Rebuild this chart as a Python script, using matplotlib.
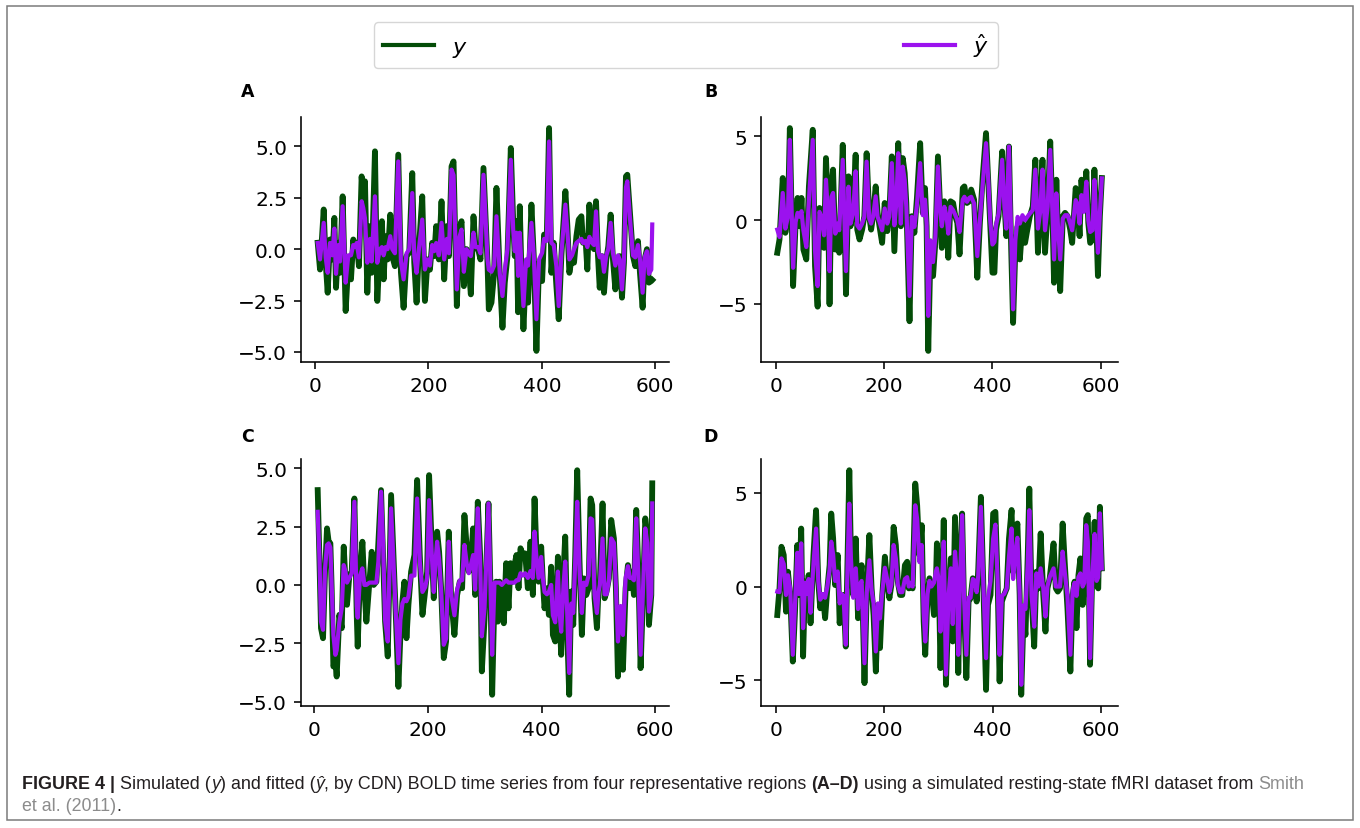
import matplotlib
matplotlib.use("Agg")
import matplotlib.pyplot as plt
from matplotlib.patches import Rectangle
from matplotlib.transforms import IdentityTransform
from matplotlib.lines import Line2D

# ---------------- data ----------------
tA = [4.7, 8.8, 15.3, 18.8, 22.3, 26.4, 30.5, 34.1, 37.0, 41.1,
      44.0, 48.7, 54.0, 58.7, 63.4, 67.5, 70.5, 73.4, 77.5, 82.2,
      85.1, 88.1, 92.2, 96.9, 99.8, 105.7, 109.8, 114.5, 118.0, 121.0,
      124.5, 128.0, 132.7, 136.2, 140.9, 146.8, 151.5, 156.2, 161.5, 166.2,
      171.5, 175.0, 179.1, 183.2, 189.1, 193.8, 198.5, 202.6, 206.7, 210.2,
      213.7, 218.4, 223.1, 227.8, 232.5, 236.1, 240.8, 244.3, 250.1, 254.8,
      258.4, 262.5, 267.2, 270.1, 274.8, 279.5, 283.0, 287.7, 291.8, 297.1,
      304.2, 306.5, 311.2, 315.9, 320.0, 325.9, 330.6, 334.7, 339.4, 345.3,
      349.4, 352.3, 355.3, 358.2, 361.1, 364.1, 367.6, 372.3, 375.8, 381.7,
      385.8, 390.5, 395.2, 400.5, 404.0, 408.7, 412.8, 416.9, 421.0, 425.7,
      429.8, 434.5, 441.6, 445.1, 448.6, 453.3, 456.8, 461.0, 465.1, 469.8,
      472.7, 476.8, 480.3, 483.9, 488.6, 492.1, 495.6, 499.1, 502.1, 506.2,
      509.7, 513.8, 517.3, 521.4, 525.5, 529.7, 534.4, 537.3, 541.4, 544.9,
      548.4, 550.8, 555.5, 560.8, 564.9, 569.6, 573.1, 577.8, 581.3, 585.4,
      588.9, 593.1, 594.8]
yA = [0.31, -0.99, 1.93, -0.66, -2.12, 0.47, -0.5, 1.52, -1.88, 0.31,
      -1.15, 2.57, -3.01, -0.66, -1.47, 0.47, -0.18, 0.31, -0.83, 3.54,
      2.41, 3.30, -2.12, 1.12, -1.15, 4.76, -2.52, 0.0, 1.36, -1.47,
      0.63, -0.5, 1.68, -0.34, -0.83, 4.6, -1.13, -2.85, -0.34, -0.16,
      3.7, -0.66, -2.6, 0.0, 2.57, -2.52, -0.5, -1.0, 0.31, -0.34,
      1.12, -0.5, 2.33, -1.47, 1.12, -0.34, 4.03, 4.27, -2.77, 0.95,
      1.36, -1.8, 0.0, -0.5, -2.2, 1.6, 0.06, 0.0, -0.5, 3.95,
      -0.66, -2.93, -2.6, -1.15, 2.98, -1.31, -3.82, -1.63, -0.34, 4.92,
      1.44, -0.34, 1.36, -3.07, 2.09, -1.15, -3.9, -0.83, -2.6, 2.17,
      -0.34, -4.95, -0.66, -1.55, 0.71, 0.47, 5.89, -1.15, 0.31, -1.8,
      -3.41, -0.34, 2.82, 1.12, -1.15, -0.34, -0.66, 0.63, 1.44, 1.6,
      0.31, 0.63, -0.99, 2.17, 0.15, 0.0, 2.33, -0.34, -1.88, -0.34,
      -2.12, -0.5, 0.15, 1.68, -0.5, -1.96, -0.66, -0.34, -2.36, -0.66,
      3.54, 3.62, 1.76, -0.34, -0.83, 0.39, -1.15, -2.85, -0.5, 0.0,
      -1.63, -1.55, -1.5]
yhatA = [0.3, -0.5, 1.28, -0.4, -1.15, 0.3, -0.3, 1.0, -1.2, 0.2,
         -0.6, 2.09, -1.63, -0.3, -0.3, 0.2, 0.1, 0.3, -0.4, 2.33,
         2.0, 1.5, -0.66, 0.5, -0.6, 2.57, -0.66, 0.0, 0.1, -0.3,
         0.1, 0.0, 0.63, 0.0, -0.2, 4.27, -0.6, -1.47, -0.2, 0.0,
         2.73, -0.3, -1.15, 0.0, 1.44, -0.99, -0.5, -0.8, 0.2, -0.1,
         0.3, -0.3, 1.28, -0.5, 0.5, -0.2, 3.87, 3.6, -1.96, 0.6,
         0.95, -1.1, 0.0, -0.2, -0.34, 0.8, 0.1, 0.1, -0.2, 3.62,
         -0.5, -1.0, -1.1, -0.8, 1.6, -1.2, -2.28, -1.0, 0.0, 4.35,
         1.0, -0.1, 0.8, -1.3, 0.8, -0.8, -2.77, -0.5, -0.8, 1.28,
         -0.3, -3.41, -0.5, -0.18, 0.5, 0.4, 5.24, 0.3, 0.2, -0.83,
         -2.77, -0.2, 2.17, 0.8, -0.5, -0.3, 0.0, 0.3, 0.4, 0.5,
         0.3, 0.4, 0.1, 0.6, 0.3, 0.2, 1.84, -0.1, -0.4, -0.3,
         -1.1, -0.3, 0.0, 1.28, -0.2, -0.8, -0.3, -0.5, -1.96, -0.5,
         3.0, 3.3, 1.5, -0.3, -0.4, 0.2, -0.5, -2.12, -0.4, -0.1,
         -1.2, -1.0, 1.2]

tB = [3.0, 7.1, 13.1, 17.9, 22.6, 26.2, 32.2, 36.9, 40.5, 44.7,
      47.7, 51.2, 56.6, 61.4, 68.5, 72.7, 77.5, 81.0, 84.6, 89.4,
      92.9, 97.1, 99.5, 103.1, 106.0, 110.2, 114.4, 117.4, 123.9, 126.9,
      129.9, 134.6, 138.2, 143.0, 147.7, 150.7, 154.9, 159.7, 163.8, 168.0,
      172.8, 176.3, 179.9, 184.7, 188.3, 191.8, 196.6, 201.4, 206.1, 209.7,
      214.5, 219.2, 222.8, 226.4, 231.2, 234.7, 238.3, 241.3, 247.2, 251.4,
      256.2, 260.9, 266.9, 271.7, 275.8, 278.8, 281.8, 286.0, 290.7, 294.9,
      299.7, 303.9, 306.9, 311.6, 315.8, 318.8, 323.0, 327.7, 331.9, 335.5,
      339.6, 345.6, 348.6, 353.3, 357.5, 361.1, 366.5, 372.4, 377.2, 382.5,
      388.5, 392.7, 396.2, 400.4, 404.0, 407.0, 411.7, 418.3, 422.5, 426.0,
      430.8, 435.0, 438.5, 442.7, 446.9, 451.0, 455.8, 460.6, 464.8, 469.5,
      474.9, 479.6, 484.4, 488.6, 492.8, 497.5, 502.3, 507.1, 511.2, 514.2,
      518.4, 521.3, 525.5, 530.3, 534.5, 539.2, 544.0, 547.6, 554.1, 557.1,
      561.3, 564.8, 569.0, 573.8, 577.4, 580.9, 585.1, 588.7, 591.7, 595.2,
      598.8, 602.4]
yB = [-1.94, -1.15, 2.52, -0.75, 0.24, 5.5, -3.93, -0.16, 1.33, -0.36,
      1.33, -1.75, -2.34, 2.02, 5.4, -2.74, -5.16, 0.73, 0.24, -1.65,
      3.71, 0.24, -5.02, 2.02, 3.02, -1.75, -0.36, -1.94, 4.5, 0.24,
      -4.42, 2.62, -0.36, 0.63, 3.91, -0.56, -1.15, -0.56, 0.24, 4.0,
      0.24, -0.56, 0.24, 2.02, 0.44, -0.36, -1.35, 1.03, -0.65, 0.24,
      3.81, -1.85, 1.43, 4.6, -0.36, 3.71, 2.82, 1.03, -6.03, 0.24,
      -0.75, 1.33, 4.6, 0.44, 1.92, -0.36, -7.8, -1.75, -3.33, -1.35,
      3.81, 0.63, -1.65, 1.13, 0.24, -2.24, 1.13, 1.03, 0.24, -0.16,
      -2.04, 1.92, 2.02, 1.03, 1.13, 1.83, 1.23, -3.43, -0.16, 2.62,
      5.2, 2.22, -0.36, -3.13, -3.13, -0.56, 0.24, 4.1, 1.03, -0.95,
      4.4, -1.75, -6.13, -1.75, -0.36, -2.34, -0.16, -1.35, -0.56, 0.24,
      0.83, 3.61, -1.94, 0.63, 3.61, -1.94, 0.63, 4.7, 0.24, -3.73,
      2.42, -0.56, -4.23, 0.24, 0.44, 0.24, -0.56, -1.35, 1.92, 1.33,
      -0.95, 2.42, 0.63, 2.92, -0.16, -1.35, -1.15, 3.02, 0.24, -3.33,
      0.24, 2.52]
yhatB = [-0.56, -1.0, 1.63, -0.5, 0.2, 4.8, -2.84, -0.1, 0.44, 0.2,
         0.54, -0.6, -1.6, 1.2, 4.8, -1.8, -3.93, 0.5, 0.2, -0.9,
         2.42, 0.1, -3.04, 1.4, 1.63, -0.8, -0.2, -0.6, 3.61, 0.1,
         -3.04, 2.0, -0.2, 0.4, 2.92, -0.3, -0.5, -0.2, 0.2, 3.5,
         0.1, -0.2, 0.2, 1.43, 0.2, -0.1, -0.6, 0.7, -0.2, 0.2,
         3.41, -0.3, 1.0, 4.0, -0.2, 3.2, 2.4, 0.8, -4.52, 0.2,
         -0.4, 0.9, 3.41, 0.3, 1.23, -0.2, -5.71, -1.2, -2.5, -1.0,
         3.21, 0.6, -0.36, 0.8, 0.2, -0.8, 0.8, 0.6, 0.3, 0.0,
         -0.7, 1.23, 1.4, 1.1, 1.33, 1.4, 1.0, -2.14, 0.0, 2.2,
         4.6, 2.4, 0.0, -1.45, -1.3, -0.3, 0.4, 3.61, 0.8, -0.5,
         4.4, -1.0, -5.32, -1.2, 0.2, -0.2, 0.3, 0.0, 0.2, 0.4,
         0.6, 3.02, -0.5, 0.5, 3.02, -0.6, 0.8, 4.2, 0.5, -2.34,
         1.6, -0.3, -2.34, 0.1, 0.3, 0.3, -0.2, -0.6, 1.2, 1.0,
         -0.2, 1.5, 0.5, 2.3, 0.0, -0.7, -0.6, 2.4, 0.2, -1.94,
         0.4, 2.5]

tC = [5.9, 8.8, 11.7, 15.3, 18.8, 22.3, 25.2, 28.2, 30.5, 33.5,
      37.0, 39.3, 44.0, 48.2, 51.7, 54.6, 57.5, 61.7, 65.8, 70.5,
      74.6, 76.3, 80.4, 84.6, 88.1, 91.6, 96.9, 101.0, 104.5, 109.2,
      112.7, 117.4, 121.0, 124.5, 129.2, 135.1, 139.2, 142.7, 148.0, 151.5,
      155.0, 158.5, 162.1, 165.6, 170.3, 176.2, 180.9, 185.6, 190.3, 195.0,
      198.5, 202.0, 206.7, 210.2, 213.2, 216.1, 219.6, 223.1, 227.8, 231.9,
      236.6, 240.8, 246.6, 251.3, 256.0, 260.1, 264.2, 268.3, 271.9, 276.0,
      279.5, 283.0, 287.7, 291.8, 294.8, 299.5, 306.5, 310.0, 313.0, 317.1,
      320.0, 323.0, 325.9, 330.0, 333.5, 337.6, 341.8, 345.3, 349.4, 352.3,
      355.8, 359.4, 362.9, 367.0, 371.1, 375.8, 380.5, 384.6, 387.6, 390.5,
      394.6, 399.3, 402.2, 405.2, 409.3, 412.8, 416.9, 419.9, 424.0, 428.7,
      431.6, 434.5, 438.6, 441.6, 445.1, 448.6, 452.1, 455.7, 459.2, 462.7,
      466.8, 470.9, 474.5, 478.6, 482.7, 486.2, 489.1, 493.2, 497.4, 500.3,
      502.6, 507.3, 510.9, 514.4, 518.5, 522.6, 527.3, 530.8, 534.4, 539.1,
      543.2, 547.9, 552.0, 555.5, 559.0, 562.5, 566.6, 570.2, 574.3, 578.4,
      582.5, 586.0, 589.0, 593.1, 594.8]
yC = [4.06, 1.28, -1.85, -2.28, 0.57, 2.42, 1.85, 1.78, -0.14, -3.49,
      -3.28, -3.92, -1.28, -1.85, 1.64, 0.28, -0.85, 0.43, 0.57, 3.7,
      -1.28, -2.64, 0.43, 1.85, -0.14, -1.57, 0.14, 1.42, 0.0, 0.14,
      1.85, 4.06, 1.28, -1.57, -3.06, 3.85, 1.28, -0.85, -4.36, -2.14,
      -0.71, 0.14, -2.28, -0.85, 0.57, 1.28, 4.49, 1.28, -1.28, -0.28,
      0.57, 4.7, 1.57, -0.57, 1.57, 2.28, 1.42, -0.14, -3.13, -2.42,
      2.28, -0.57, -2.14, -0.43, 0.14, -0.14, 2.99, 1.57, 0.57, 1.14,
      2.42, -0.43, 3.56, 1.28, -3.7, -1.5, 3.49, -0.14, -4.7, -0.43,
      0.14, -1.57, 0.14, -0.14, -1.64, 0.93, -1.0, 0.93, 0.14, 0.85,
      1.28, -0.14, 1.57, 1.28, 1.35, -0.14, 1.85, -0.43, 3.7, 1.71,
      0.14, 1.64, 0.14, -1.0, -0.14, -1.28, 0.78, -2.14, -2.42, 1.21,
      -1.28, -2.99, 0.57, 2.07, -2.0, -4.7, -0.28, -1.71, 1.28, 4.91,
      1.0, -2.14, 0.28, -0.43, -0.14, 3.7, 3.42, -0.57, -1.85, -0.14,
      0.14, 3.49, -0.57, -0.28, 0.28, 2.78, 1.99, -0.14, -3.92, -1.14,
      -3.63, -0.14, 0.85, -0.14, 0.57, -0.43, 3.21, 0.71, -3.56, -0.57,
      2.85, 2.14, -1.71, -0.43, 4.35]
yhatC = [3.13, 1.3, -1.57, -1.92, 0.7, 1.71, 1.78, 1.6, 0.0, -2.14,
         -2.99, -2.8, -1.6, -1.0, 0.85, 0.6, 0.1, 0.3, 0.5, 3.56,
         -0.9, -1.4, 0.4, 0.71, 0.0, 0.0, 0.1, 0.1, 0.1, 0.1,
         1.0, 3.99, 1.8, -1.5, -2.42, 3.28, 1.0, -0.9, -3.35, -1.5,
         -0.8, -0.6, -0.7, -0.5, 0.4, 0.4, 3.7, 1.0, -0.3, -0.1,
         0.3, 3.63, 1.3, -0.3, 1.0, 1.85, 1.1, -0.2, -2.56, -2.3,
         1.85, -0.4, -1.3, -0.2, 0.2, 0.2, 1.71, 0.9, 0.5, 0.9,
         1.28, -0.2, 3.28, 1.0, -2.2, -1.0, 3.49, 0.0, -2.99, 0.1,
         0.1, 0.1, 0.1, 0.0, 0.1, 0.2, 0.1, 0.1, 0.1, 0.1,
         0.2, 0.2, 0.5, 0.4, 0.5, 0.3, 0.6, 0.3, 2.28, 1.3,
         0.3, 1.2, 0.3, -0.3, -0.4, -0.3, 0.0, -1.3, -1.6, 0.57,
         -1.2, -2.0, 0.0, 1.0, -1.2, -3.77, -0.8, -1.2, 1.0, 3.56,
         0.6, -1.2, 0.1, 0.0, 0.4, 2.85, 2.8, -0.4, -1.2, -0.3,
         0.0, 1.99, -0.4, -0.4, 0.2, 1.99, 1.8, 0.0, -2.42, -0.9,
         -2.14, 0.3, 0.8, 0.3, 0.3, 0.2, 2.85, 0.5, -2.99, -0.3,
         2.42, 1.8, -1.14, -0.4, 3.49]

tD = [3.0, 7.1, 10.7, 14.9, 19.1, 22.6, 26.8, 31.6, 35.7, 39.9,
      42.9, 47.1, 50.6, 54.2, 57.8, 60.8, 64.3, 69.7, 74.5, 78.6,
      82.2, 87.0, 91.2, 95.3, 99.5, 102.5, 106.0, 109.6, 114.4, 118.0,
      121.5, 125.1, 129.3, 132.9, 135.8, 138.8, 143.0, 147.7, 151.9, 154.9,
      158.5, 163.8, 168.0, 172.8, 176.9, 180.5, 184.7, 188.8, 192.4, 196.6,
      201.4, 205.5, 209.7, 213.3, 217.5, 221.6, 225.2, 229.4, 233.5, 238.3,
      242.5, 245.5, 249.0, 252.6, 257.4, 260.9, 265.1, 269.3, 272.9, 275.8,
      280.0, 283.6, 287.2, 291.9, 295.5, 297.3, 300.9, 303.9, 306.9, 309.9,
      314.0, 318.8, 323.0, 326.5, 330.7, 334.3, 336.7, 339.6, 343.8, 347.4,
      351.6, 355.7, 359.3, 363.5, 367.6, 370.6, 373.6, 378.4, 383.1, 387.9,
      391.5, 396.2, 401.0, 405.2, 409.3, 412.9, 417.1, 421.3, 426.0, 430.2,
      435.0, 437.9, 442.1, 445.7, 449.9, 452.8, 457.0, 460.6, 464.8, 467.7,
      471.9, 476.7, 480.8, 484.4, 488.6, 493.4, 497.5, 501.1, 505.3, 512.4,
      516.6, 520.2, 524.3, 529.1, 533.3, 538.0, 543.4, 547.6, 551.1, 554.7,
      558.3, 561.9, 566.0, 569.0, 572.6, 575.6, 579.7, 583.9, 588.1, 591.8,
      594.8, 597.8, 601.4]
yD = [-1.52, -0.1, 2.12, 1.68, -1.34, 0.79, -0.45, -4.0, -1.34, 2.21,
      -0.45, 3.09, -3.73, 0.26, -0.63, 0.61, -1.96, 1.68, 4.07, 0.26,
      -1.16, -0.45, -1.69, -0.1, 1.14, 3.89, 2.56, 0.08, 1.68, -1.96,
      -0.63, -0.45, -3.2, 2.03, 6.2, 1.68, -0.45, 2.56, -1.69, 0.26,
      1.14, -5.15, -0.27, 2.74, -0.1, -1.52, -4.53, -0.98, -3.28, -0.45,
      1.59, 0.26, -0.63, 0.08, 3.18, 2.21, 0.26, -0.45, -0.45, 1.14,
      1.32, -0.1, 0.26, -0.1, 5.49, 4.33, 1.68, 3.27, -1.87, -3.64,
      -0.45, 0.44, -0.1, -1.52, 0.26, 2.3, 0.26, -4.35, -0.1, 3.54,
      -5.24, -0.98, 1.5, -2.93, 3.71, 0.79, -4.61, -0.1, 3.89, -0.98,
      -4.88, -0.8, -0.63, 0.44, 0.26, -0.8, 0.97, 4.78, -0.1, -5.51,
      -0.98, -0.45, 3.89, 3.98, 0.26, -5.06, -0.8, -0.45, -0.1, 2.56,
      4.08, 0.79, 2.56, 3.36, -0.45, -5.77, -1.52, -2.58, 1.68, 5.22,
      -0.63, -3.2, 0.79, -0.1, 2.83, -0.45, -2.4, -0.1, 0.44, 2.3,
      -0.1, -0.27, -0.1, 3.36, 1.14, -1.16, -4.53, -0.45, 0.26, -2.22,
      0.61, 1.5, -0.98, 0.35, 3.63, 3.81, -4.17, 0.79, 3.45, 0.08,
      -0.1, 4.25, 0.97]
yhatD = [-0.27, -0.3, 1.5, 1.2, -0.45, 0.6, -0.1, -3.64, -1.0, 1.8,
         -0.4, 2.3, -2.22, 0.2, -0.4, 0.4, -1.4, 1.2, 3.09, 0.3,
         -0.7, -0.4, -0.6, 0.0, 0.9, 2.39, 1.7, 0.3, 0.8, -0.9,
         -0.4, -0.5, -3.1, 1.5, 4.42, 1.5, -0.6, 0.97, -1.2, 0.1,
         0.3, -4.09, -0.3, 1.4, -0.2, -0.9, -3.46, -0.9, -1.7, -0.3,
         1.0, 0.4, -0.3, 0.1, 2.21, 1.5, 0.1, -0.3, -0.3, 0.4,
         0.5, 0.0, 0.2, 0.0, 4.33, 3.6, 1.3, 2.21, -1.4, -2.93,
         -0.4, 0.3, 0.0, 0.2, 0.8, 0.97, 0.3, -2.4, 0.3, 2.39,
         -4.7, -0.5, 0.97, -2.0, 1.86, 0.5, -3.64, 0.0, 3.8, -0.6,
         -3.64, -0.6, -0.6, 0.4, 0.3, -0.3, 0.6, 4.25, 0.0, -3.82,
         -0.6, 0.3, 2.56, 3.3, 0.3, -3.64, -0.5, -0.4, -0.1, 1.6,
         3.09, 0.4, 1.8, 2.6, -0.4, -5.24, -1.0, -1.2, 1.2, 4.07,
         -0.5, -2.14, 0.7, 0.0, 0.97, -0.1, -1.6, 0.0, 0.5, 0.97,
         0.0, 0.0, 0.0, 1.86, 0.7, -0.5, -3.64, -0.2, 0.2, -0.5,
         0.5, 0.7, 0.0, 0.2, 3.27, 2.4, -3.82, 0.5, 2.8, 0.3,
         0.5, 3.9, 0.97]

panel_letters = ["A", "B", "C", "D"]
xticks = [0, 200, 400, 600]
yticks_AC = [-5.0, -2.5, 0.0, 2.5, 5.0]
yticks_BD = [-5, 0, 5]
legend_labels = ["$y$", r"$\hat{y}$"]

# ---------------- styling ----------------
GREEN = "#034c07"
PURPLE = "#9b12ee"
W, H = 1360, 829

fig = plt.figure(figsize=(W / 100, H / 100), dpi=100)

rects = [[0.2213, 0.5621, 0.2706, 0.2956],
         [0.5596, 0.5621, 0.2625, 0.2956],
         [0.2213, 0.1472, 0.2706, 0.2979],
         [0.5596, 0.1472, 0.2625, 0.2979]]
series = [(tA, yA, yhatA, yticks_AC), (tB, yB, yhatB, yticks_BD),
          (tC, yC, yhatC, yticks_AC), (tD, yD, yhatD, yticks_BD)]
label_pos = [(248, 92), (711, 92), (248, 437), (711, 437)]

for rect, (t, y, yh, yt), letter, (lx, ly) in zip(rects, series, panel_letters, label_pos):
    assert len(t) == len(y) == len(yh), (letter, len(t), len(y), len(yh))
    ax = fig.add_axes(rect)
    ax.plot(t, y, color=GREEN, lw=4.2)
    ax.plot(t, yh, color=PURPLE, lw=3.0)
    ax.set_xticks(xticks)
    ax.set_yticks(yt)
    ax.spines["top"].set_visible(False)
    ax.spines["right"].set_visible(False)
    for s in ("left", "bottom"):
        ax.spines[s].set_linewidth(1.15)
    ax.tick_params(labelsize=14.5, length=5, width=1.15, pad=5)
    fig.text(lx / W, 1 - ly / H, letter, fontsize=12.5, fontweight="bold",
             ha="center", va="center")

handles = [Line2D([], [], color=GREEN, lw=3), Line2D([], [], color=PURPLE, lw=3)]
fig.legend(handles, legend_labels, loc="lower left",
           bbox_to_anchor=(374 / W, 1 - 69 / H, (998 - 374) / W, 0.05),
           mode="expand", ncol=2, fontsize=16, handlelength=2.3,
           borderaxespad=0.0)

# outer frame (square corners, grey)
frame = Rectangle((7, 8), W - 14, H - 15, transform=IdentityTransform(),
                  fill=False, ec="#7a7a7a", lw=1.1)
fig.add_artist(frame)

# ---------------- caption (rich text) ----------------
TXT = "#231f20"
LINK = "#8c8c8c"
FAM = ["Liberation Sans Narrow", "Liberation Sans", "DejaVu Sans"]
line1 = [("FIGURE 4 |", dict(weight="bold", color=TXT)),
         (" Simulated (", dict(color=TXT)),
         ("y", dict(style="italic", color=TXT)),
         (") and fitted (", dict(color=TXT)),
         ("ŷ", dict(style="italic", color=TXT)),
         (", by CDN) BOLD time series from four representative regions ", dict(color=TXT)),
         ("(A–D)", dict(weight="bold", color=TXT)),
         (" using a simulated resting-state fMRI dataset from ", dict(color=TXT)),
         ("Smith", dict(color=LINK))]
line2 = [("et al. (2011)", dict(color=LINK)),
         (".", dict(color=TXT))]

renderer = fig.canvas.get_renderer()


def piece_width(s, size, **kw):
    a = fig.text(0, 0, "|" + s + "|", transform=IdentityTransform(),
                 fontsize=size, family=FAM, **kw)
    b = fig.text(0, 0, "||", transform=IdentityTransform(),
                 fontsize=size, family=FAM, **kw)
    w = a.get_window_extent(renderer).width - b.get_window_extent(renderer).width
    a.remove()
    b.remove()
    return w


base = 10.0
total = sum(piece_width(s, base, **kw) for s, kw in line1)
size = base * (1306 - 22) / total


def draw_line(pieces, x0, y_top):
    x = x0
    for s, kw in pieces:
        fig.text(x, H - y_top, s, transform=IdentityTransform(), fontsize=size,
                 family=FAM, ha="left", va="baseline", **kw)
        x += piece_width(s, size, **kw)


draw_line(line1, 22, 789)
draw_line(line2, 22, 811)

fig.savefig("out.png", dpi=100)
